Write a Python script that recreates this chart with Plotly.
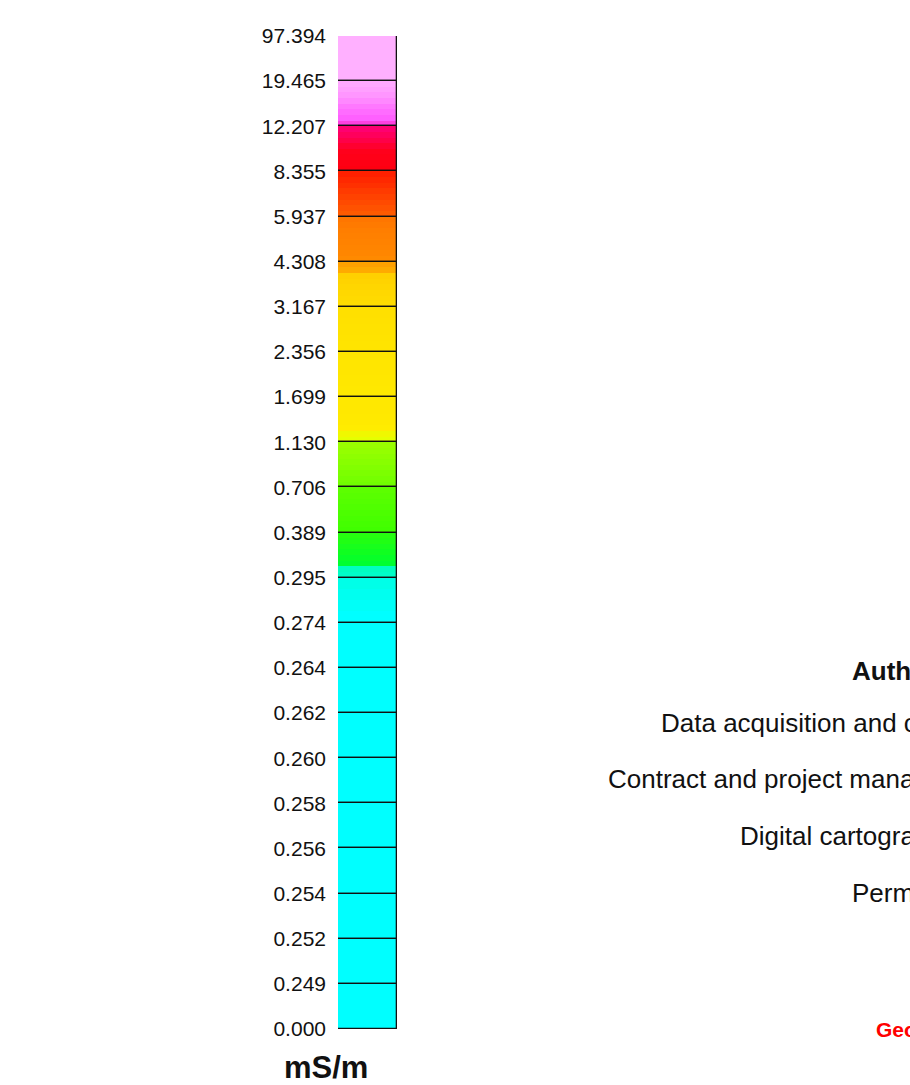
import plotly.graph_objects as go

# Class boundaries of the conductivity legend, bottom to top (mS/m)
class_labels = ["0.000", "0.249", "0.252", "0.254", "0.256", "0.258", "0.260",
                "0.262", "0.264", "0.274", "0.295", "0.389", "0.706", "1.130",
                "1.699", "2.356", "3.167", "4.308", "5.937", "8.355", "12.207",
                "19.465", "97.394"]

# Colour shading inside each class, listed bottom to top (equal-height bands)
cyan = ["#00FFFF"]
band_colors = [
    cyan, cyan, cyan, cyan, cyan, cyan, cyan, cyan, cyan,
    ["#00FFFF", "#00FFF8", "#00FFF0", "#00FFE8"],
    ["#00FFC8", "#00FFC0", "#00FF30", "#08FF28", "#10FF20", "#18FF1C", "#20FF14", "#26FF10"],
    ["#40FF00", "#44FF00", "#48FF00", "#4CFF00", "#50FF00", "#54FF00", "#58FF00", "#5CFF00"],
    ["#70FF00", "#76FF00", "#7CFF00", "#82FF00", "#88FF00", "#8EFF00", "#94FF00", "#99FF00"],
    ["#E6FF00", "#F0F800", "#FFEC00", "#FFEA00", "#FFE900", "#FFE800", "#FFE800", "#FFE800"],
    ["#FFE800", "#FFE800", "#FFE700", "#FFE700", "#FFE600", "#FFE600", "#FFE600", "#FFE500"],
    ["#FFE400", "#FFE400", "#FFE300", "#FFE200", "#FFE200", "#FFE100", "#FFE000", "#FFE000"],
    ["#FFDC00", "#FFDA00", "#FFD800", "#FFD600", "#FFD300", "#FFD000", "#FFAA00", "#FFA000"],
    ["#FF8A00", "#FF8600", "#FF8400", "#FF8200", "#FF8000", "#FF7E00", "#FF7A00", "#FF7600"],
    ["#FF5A00", "#FF5200", "#FF4A00", "#FF4200", "#FF3A00", "#FF3000", "#FF2800", "#FF2000"],
    ["#FF0010", "#FF0014", "#FF0018", "#FF001C", "#FF0030", "#FF0048", "#FF005C", "#FF0070"],
    ["#FF40E0", "#FF60FF", "#FF6CFF", "#FF78FF", "#FF88FF", "#FF96FF", "#FFA0FF", "#FFA8FF"],
    ["#FFB0FF"],
]

unit_label = "mS/m"
credit_lines = ["Authors", "Data acquisition and compilation",
                "Contract and project management", "Digital cartography",
                "Permission"]
agency_label = "Geological Survey"

W, H = 910, 1085
TOP, BOTTOM = 36, 1029          # pixel extent of the legend bar
BAR_LEFT, BAR_RIGHT = 338, 397
FONT = "Liberation Sans, Arial, sans-serif"


def px_x(x):
    return x / W


def px_y(y):
    return (BOTTOM - y) / (BOTTOM - TOP)


fig = go.Figure()

# Shaded bands within every class
for i, colors in enumerate(band_colors):
    n = len(colors)
    for k, c in enumerate(colors):
        fig.add_trace(go.Bar(
            x=[0], y=[1 / n], base=[i + k / n], width=[1],
            marker=dict(color=c, line=dict(width=0)),
            hoverinfo="skip", showlegend=False,
        ))

# Class outlines
n_classes = len(band_colors)
fig.add_trace(go.Bar(
    x=[0] * n_classes, y=[1] * n_classes, base=list(range(n_classes)),
    width=[1] * n_classes,
    marker=dict(color="rgba(0,0,0,0)", line=dict(color="#111111", width=1.3)),
    hoverinfo="skip", showlegend=False,
))

annotations = [
    dict(text=f"<b>{unit_label}</b>", x=px_x(326), y=px_y(1067), xref="paper", yref="paper",
         xanchor="center", yanchor="middle", showarrow=False,
         font=dict(family=FONT, size=31, color="#111111")),
]

credit_pos = [(850, 671), (659, 723), (606, 779), (738, 836), (850, 893)]
for j, (line, (x0, y0)) in enumerate(zip(credit_lines, credit_pos)):
    txt = f"<b>{line}</b>" if j == 0 else line
    annotations.append(dict(
        text=txt, x=px_x(x0), y=px_y(y0), xref="paper", yref="paper",
        xanchor="left", yanchor="middle", showarrow=False,
        font=dict(family=FONT, size=26, color="#111111")))

annotations.append(dict(
    text=f"<b>{agency_label}</b>", x=px_x(874), y=px_y(1029), xref="paper", yref="paper",
    xanchor="left", yanchor="middle", showarrow=False,
    font=dict(family=FONT, size=21, color="#FF0000")))

fig.update_layout(
    width=W, height=H,
    margin=dict(l=0, r=0, t=TOP, b=H - BOTTOM, pad=0),
    paper_bgcolor="white", plot_bgcolor="white",
    barmode="overlay", bargap=0,
    showlegend=False,
    xaxis=dict(domain=[px_x(BAR_LEFT), px_x(BAR_RIGHT)], range=[-0.5, 0.5],
               visible=False, fixedrange=True),
    yaxis=dict(range=[0, n_classes], tickmode="array",
               tickvals=list(range(len(class_labels))), ticktext=class_labels,
               showgrid=False, zeroline=False, showline=False, ticks="",
               ticklabelstandoff=11,
               tickfont=dict(family=FONT, size=21, color="#111111"),
               fixedrange=True),
    annotations=annotations,
)

fig.write_html("out.html")
